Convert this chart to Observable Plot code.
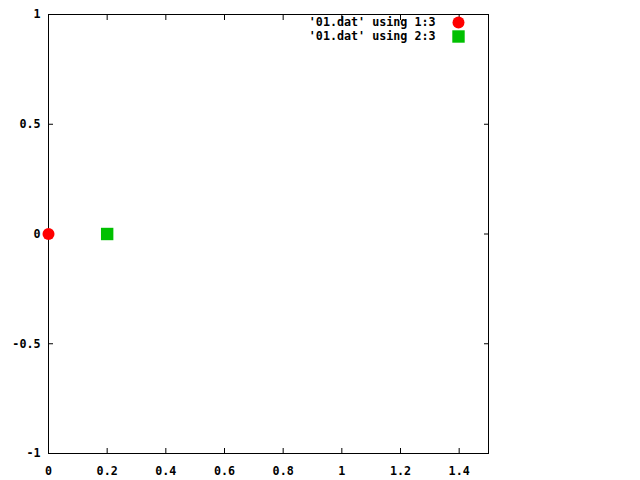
<!DOCTYPE html>
<html>
<head>
<meta charset="utf-8">
<script src="https://cdn.jsdelivr.net/npm/d3@7"></script>
<script src="https://cdn.jsdelivr.net/npm/@observablehq/plot@0.6"></script>
<style>
  html, body { margin: 0; padding: 0; background: #fff; }
  svg { display: block; }
</style>
</head>
<body>
<div id="chart"></div>
<script>
// Data ('01.dat')
const col1 = [0];     // column 1
const col2 = [0.2];   // column 2
const col3 = [0];     // column 3
const seriesNames = ["'01.dat' using 1:3", "'01.dat' using 2:3"];
const seriesColors = ["#ff0000", "#00c000"];
const seriesSymbols = ["circle", "square"];
const xTicks = [0, 0.2, 0.4, 0.6, 0.8, 1, 1.2, 1.4];
const yTicks = [-1, -0.5, 0, 0.5, 1];

const s1 = col1.map((x, i) => ({x, y: col3[i]}));
const s2 = col2.map((x, i) => ({x, y: col3[i]}));
const legend = seriesNames.map((name, i) => ({name, i}));
const symR = {circle: 6, square: 7};

const font = "bold 11.7px 'DejaVu Sans Mono', monospace";
const noLabel = () => "";

const plot = Plot.plot({
  width: 640,
  height: 480,
  marginLeft: 48,
  marginRight: 152,
  marginTop: 14,
  marginBottom: 27,
  style: {font, background: "#fff", color: "#000"},
  x: {domain: [0, 1.5]},
  y: {domain: [-1, 1]},
  marks: [
    Plot.frame({stroke: "#000", strokeWidth: 1}),
    Plot.axisX({anchor: "bottom", ticks: xTicks, tickSize: -5, tickPadding: 18, tickFormat: d => String(d), label: null, fill: "#000"}),
    Plot.axisX({anchor: "top", ticks: xTicks, tickSize: -5, tickFormat: noLabel, label: null}),
    Plot.axisY({anchor: "left", ticks: yTicks, tickSize: -5, tickPadding: 13, tickFormat: d => String(d), label: null, fill: "#000"}),
    Plot.axisY({anchor: "right", ticks: yTicks, tickSize: -5, tickFormat: noLabel, label: null}),
    Plot.dot(s1, {x: "x", y: "y", symbol: seriesSymbols[0], r: symR[seriesSymbols[0]], fill: seriesColors[0], stroke: null}),
    Plot.dot(s2, {x: "x", y: "y", symbol: seriesSymbols[1], r: symR[seriesSymbols[1]], fill: seriesColors[1], stroke: null}),
    ...legend.map(d => Plot.text([d], {text: "name", frameAnchor: "top-right", dx: -53, dy: 8 + 14 * d.i, textAnchor: "end", lineAnchor: "middle", fill: "#000"})),
    ...legend.map(d => Plot.dot([d], {frameAnchor: "top-right", dx: -30, dy: 8 + 14 * d.i, symbol: seriesSymbols[d.i], r: symR[seriesSymbols[d.i]], fill: seriesColors[d.i], stroke: null}))
  ]
});
document.getElementById("chart").appendChild(plot);
</script>
</body>
</html>
